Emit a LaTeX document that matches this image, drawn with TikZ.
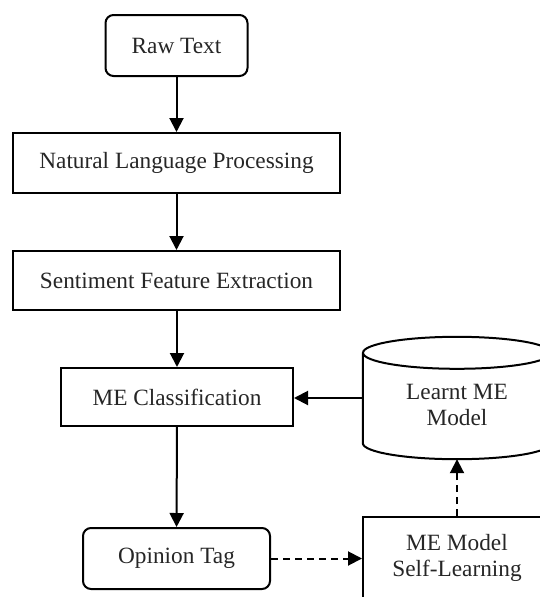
\documentclass[tikz,border=0pt]{standalone}
\usepackage{fontspec}
\setmainfont{Liberation Serif}
\usetikzlibrary{arrows.meta}
\begin{document}
\begin{tikzpicture}[x=1pt,y=-1pt,
  every node/.style={font=\fontsize{23.3}{26}\selectfont, text=black!85, inner sep=0pt, align=center},
  box/.style={draw=black, line width=2pt, rectangle},
  rbox/.style={box, rounded corners=8pt},
  conn/.style={line width=2pt, -{Triangle[length=14pt,width=14pt]}},
  dconn/.style={conn, dash pattern=on 7pt off 5pt}
]
\useasboundingbox (0,0) rectangle (540,597);
\node[rbox, minimum width=142pt, minimum height=61pt] (raw) at (176.5,45.5) {Raw Text};
\node[box, minimum width=327pt, minimum height=60pt] (nlp) at (176.5,163) {Natural Language Processing};
\node[box, minimum width=327pt, minimum height=59pt] (sfe) at (176.5,280.5) {Sentiment Feature Extraction};
\node[box, minimum width=232pt, minimum height=58pt] (mec) at (177,397) {ME Classification};
\node[rbox, minimum width=187pt, minimum height=61pt] (op) at (176.5,558.5) {Opinion Tag};
\node[rectangle, minimum width=188pt, minimum height=90pt] (lm) at (457,398) {};
\node (lmt) at (457,405) {Learnt ME\\Model};
\node[box, minimum width=188pt, minimum height=82pt] (sl) at (457,558) {ME Model\\Self-Learning};
% cylinder
\draw[line width=2pt] (lm.north west) -- (lm.south west)
  arc[start angle=180, end angle=360, x radius=94pt, y radius=16pt] -- (lm.north east);
\draw[line width=2pt] (lm.north) ellipse[x radius=94pt, y radius=16pt];
\coordinate (lmb) at ([yshift=-16pt]lm.south);
% connectors
\draw[conn] (raw) -- (nlp);
\draw[conn] (nlp) -- (sfe);
\draw[conn] (sfe.south -| mec.north) -- (mec);
\draw[conn] (mec) -- (op);
\draw[conn] (lm.west) -- (lm.west -| mec.east);
\draw[dconn] (op.east) -- (op.east -| sl.west);
\draw[dconn] (sl.north) -- (lmb);
\end{tikzpicture}
\end{document}
